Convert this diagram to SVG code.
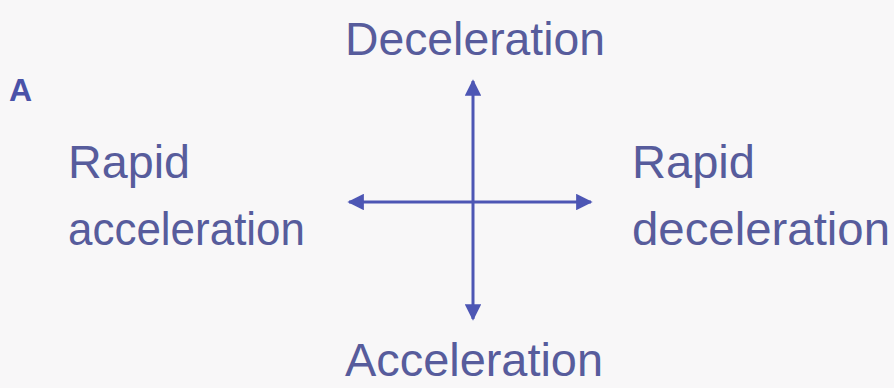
<svg xmlns="http://www.w3.org/2000/svg" width="894" height="388" viewBox="0 0 894 388">
<style>
.t{font-family:"Liberation Sans",Arial,sans-serif;font-size:46px;fill:#575c9c}
.c{stroke:#4d56b4;stroke-width:3;fill:none}
</style>
<defs>
<marker id="ah" viewBox="0 0 10 10" refX="9" refY="5" markerWidth="5.5" markerHeight="5.5" orient="auto-start-reverse" markerUnits="strokeWidth">
<path d="M0,0 L10,5 L0,10 Z" fill="#4d56b4"/>
</marker>
</defs>
<rect width="894" height="388" fill="#f8f7f8"/>
<g id="label-A"><text x="9" y="101" style="font-family:'Liberation Sans',Arial,sans-serif;font-size:32px;font-weight:bold;fill:#4a52a8">A</text></g>
<g id="deceleration"><text class="t" x="345" y="55" textLength="260" lengthAdjust="spacingAndGlyphs">Deceleration</text></g>
<g id="acceleration"><text class="t" x="345" y="376" textLength="258" lengthAdjust="spacingAndGlyphs">Acceleration</text></g>
<g id="rapid-acceleration"><text class="t" x="68" y="178" textLength="122" lengthAdjust="spacingAndGlyphs">Rapid</text><text class="t" x="68" y="245" textLength="237" lengthAdjust="spacingAndGlyphs">acceleration</text></g>
<g id="rapid-deceleration"><text class="t" x="632" y="178" textLength="123" lengthAdjust="spacingAndGlyphs">Rapid</text><text class="t" x="632" y="245" textLength="258" lengthAdjust="spacingAndGlyphs">deceleration</text></g>
<g id="connectors">
<line class="c" x1="473" y1="319" x2="473" y2="81" marker-start="url(#ah)" marker-end="url(#ah)"/>
<line class="c" x1="349" y1="202" x2="591" y2="202" marker-start="url(#ah)" marker-end="url(#ah)"/>
</g>
</svg>
